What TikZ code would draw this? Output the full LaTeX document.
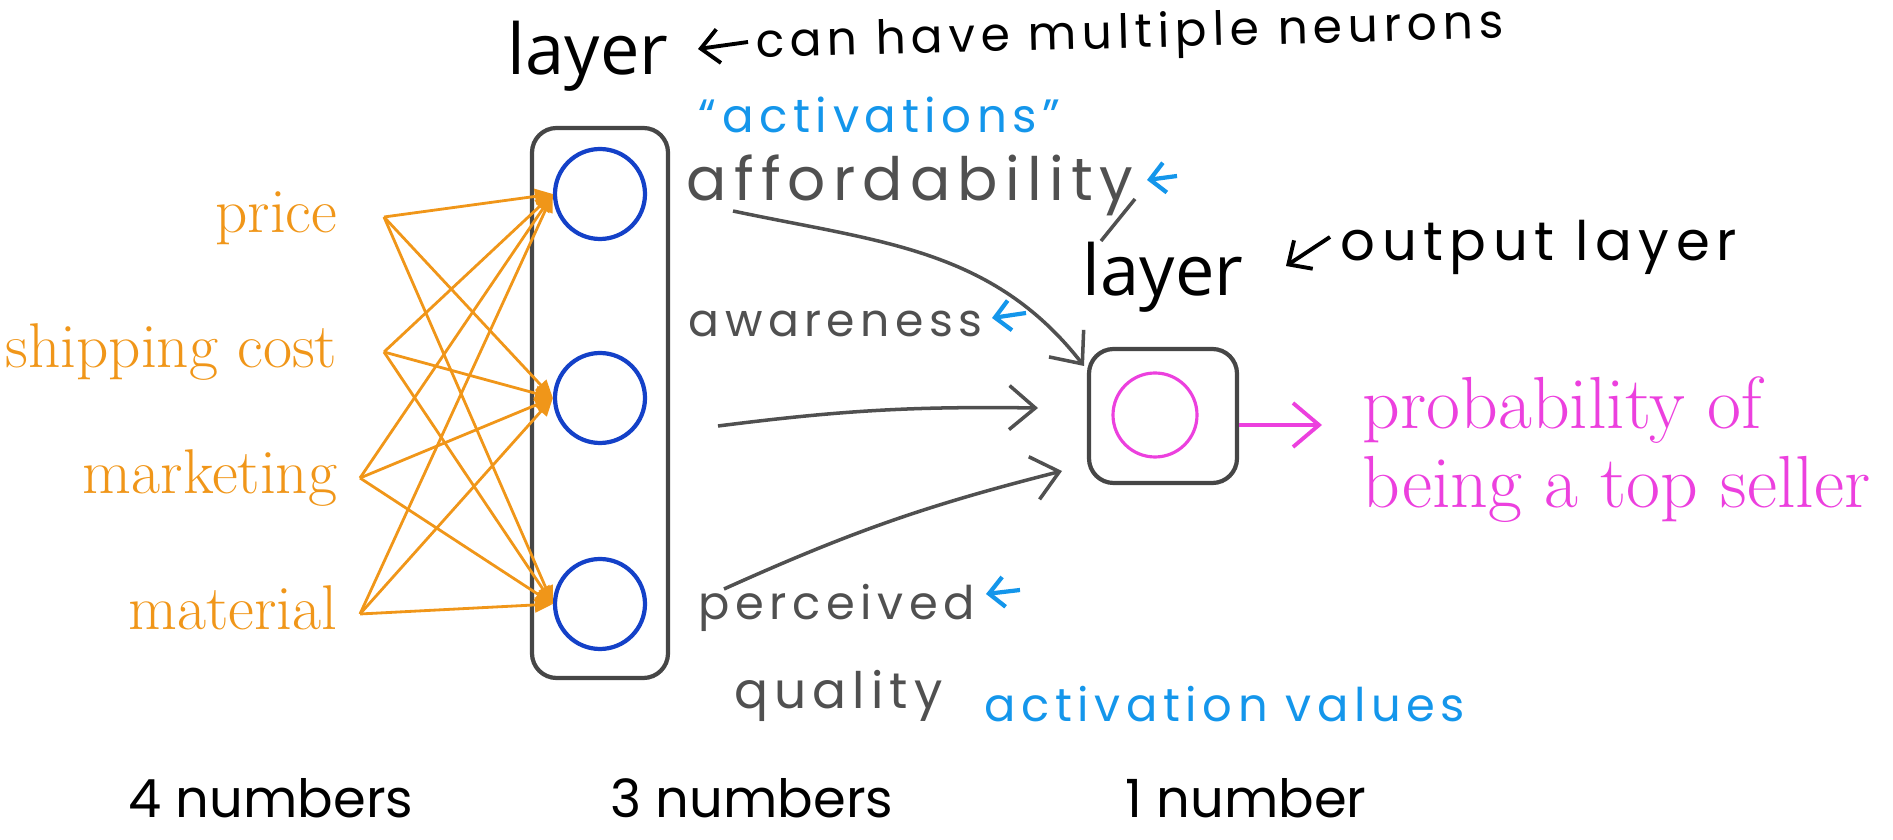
\documentclass[tikz,border=0pt]{standalone}
\usepackage{fontspec}
\usetikzlibrary{arrows.meta,positioning,calc}
\newfontfamily\typedfont{Open Sans}
\newfontfamily\handfont[LetterSpace=12]{Poppins}
\newfontfamily\tallfont{Poppins}
\definecolor{inorange}{RGB}{240,150,25}
\definecolor{hidblue}{RGB}{20,65,200}
\definecolor{boxgray}{RGB}{70,70,70}
\definecolor{pengray}{RGB}{80,80,80}
\definecolor{noteblue}{RGB}{20,150,235}
\definecolor{outpink}{RGB}{236,64,222}

\tikzset{
  neuron/.style={circle, draw=hidblue, line width=1.2pt, minimum size=0.9cm},
  layerbox/.style={draw=boxgray, line width=1.2pt, rounded corners=7pt},
  inlabel/.style={text=inorange, inner sep=0pt, anchor=base east, font=\fontsize{18}{20}\selectfont},
  wire/.style={draw=inorange, line width=0.8pt, -{Triangle[length=1.8mm,width=1.5mm]}},
  pen/.style={draw=pengray, line width=1pt, -{Straight Barb[length=2.6mm,width=4.4mm]}},
  bluepen/.style={draw=noteblue, line width=1.2pt, -{Straight Barb[length=1.5mm,width=3mm]}},
  blackpen/.style={draw=black, line width=1.1pt, -{Straight Barb[length=1.8mm,width=3.4mm]}},
  hand/.style={inner sep=0pt, text=pengray, font=\handfont\fontsize{#1}{18}\selectfont},
  hand/.default=15,
  typed/.style={inner sep=0pt, font=\typedfont\fontsize{20}{24}\selectfont}
}

\begin{document}
\begin{tikzpicture}
\useasboundingbox (0,0) rectangle (18.93,8.40);
% hidden layer
\node[layerbox, minimum width=1.36cm, minimum height=5.5cm] (hbox) at (6.00,4.37) {};
\foreach \i/\y in {1/6.46, 2/4.42, 3/2.36} \node[neuron] (h\i) at (6.00,\y) {};
% inputs
\foreach \i/\y/\dx/\t in {1/6.07/0.46/price, 2/4.72/0.46/shipping cost, 3/3.46/0.22/marketing, 4/2.10/0.22/material} {
  \node[inlabel] (x\i) at (3.38,\y) {\t};
  \coordinate (s\i) at ($(x\i.base east)+(\dx,0.16)$);
}
\foreach \i in {1,...,4} \foreach \j in {1,2,3} \draw[wire] (s\i) -- (h\j.west);
% output layer
\node[layerbox, minimum width=1.48cm, minimum height=1.34cm] (obox) at (11.63,4.24) {};
\node[circle, draw=outpink, line width=0.9pt, minimum size=0.84cm] (o1) at (11.55,4.25) {};
% activations
\node[hand=17, anchor=west] (aff) at (6.86,6.55) {affordability};
\node[hand=13, anchor=west] (awa) at (6.88,5.16) {awareness};
\node[hand=13.2, anchor=west] (per) at (6.98,2.32) {perceived};
\node[hand=14.3, anchor=west] (qua) at (7.34,1.44) {quality};
\coordinate (a1) at (7.33,6.29);
\coordinate (a2) at (7.18,4.14);
\coordinate (a3) at (7.24,2.51);
\coordinate (t1) at (10.84,4.74);
\coordinate (t2) at (10.38,4.32);
\coordinate (t3) at (10.62,3.69);
\draw[pen] (a1) to[out=-12, in=128] (t1);
\draw[pen] (a2) to[bend left=4] (t2);
\draw[pen] (a3) to[bend left=5] (t3);
\coordinate (y1) at (11.35,6.41);
\coordinate (y2) at (11.01,5.99);
\draw[pengray, line width=1pt] (y1) -- (y2);
% blue notes
\coordinate (b1) at (11.77,6.64); \coordinate (b2) at (11.47,6.60);
\coordinate (b3) at (10.26,5.27); \coordinate (b4) at (9.92,5.22);
\coordinate (b5) at (10.20,2.50); \coordinate (b6) at (9.86,2.46);
\draw[bluepen] (b1) -- (b2);
\draw[bluepen] (b3) -- (b4);
\draw[bluepen] (b5) -- (b6);
\node[hand=13.3, text=noteblue, anchor=west] (act) at (6.98,7.25) {“activations”};
\node[hand=13.2, text=noteblue, anchor=west] (val) at (9.84,1.36) {activation values};
% layer labels
\node[typed, anchor=base] (toplayer) at (5.88,7.65) {layer};
\node[typed, anchor=base] (outlayer) at (11.63,5.44) {layer};
\coordinate (c1) at (7.48,7.98); \coordinate (c2) at (6.98,7.91);
\draw[blackpen] (c1) -- (c2);
\node[hand=13.4, text=black, anchor=west, rotate=1.5] (multi) at (7.55,7.94) {can have multiple neurons};
\coordinate (c3) at (13.30,6.03); \coordinate (c4) at (12.86,5.74);
\draw[blackpen] (c3) -- (c4);
\node[hand=15.5, text=black, anchor=west] (outnote) at (13.40,5.93) {output layer};
% output
\coordinate (p1) at (13.22,4.15);
\draw[pen, draw=outpink, line width=1.1pt] (obox.east |- p1) -- (p1);
\node[anchor=west, inner sep=0pt, text=outpink, align=left, font=\fontsize{21}{22.5}\selectfont] (prob) at (13.62,3.90) {probability of\\being a top seller};
% sizes
\foreach \n/\x/\t in {n4/2.71/4 numbers, n3/7.52/3 numbers, n1/12.46/1 number}
  \node[inner sep=0pt, text=black, font=\tallfont\fontsize{15}{18}\selectfont] (\n) at (\x,0.42) {\t};
\end{tikzpicture}
\end{document}
